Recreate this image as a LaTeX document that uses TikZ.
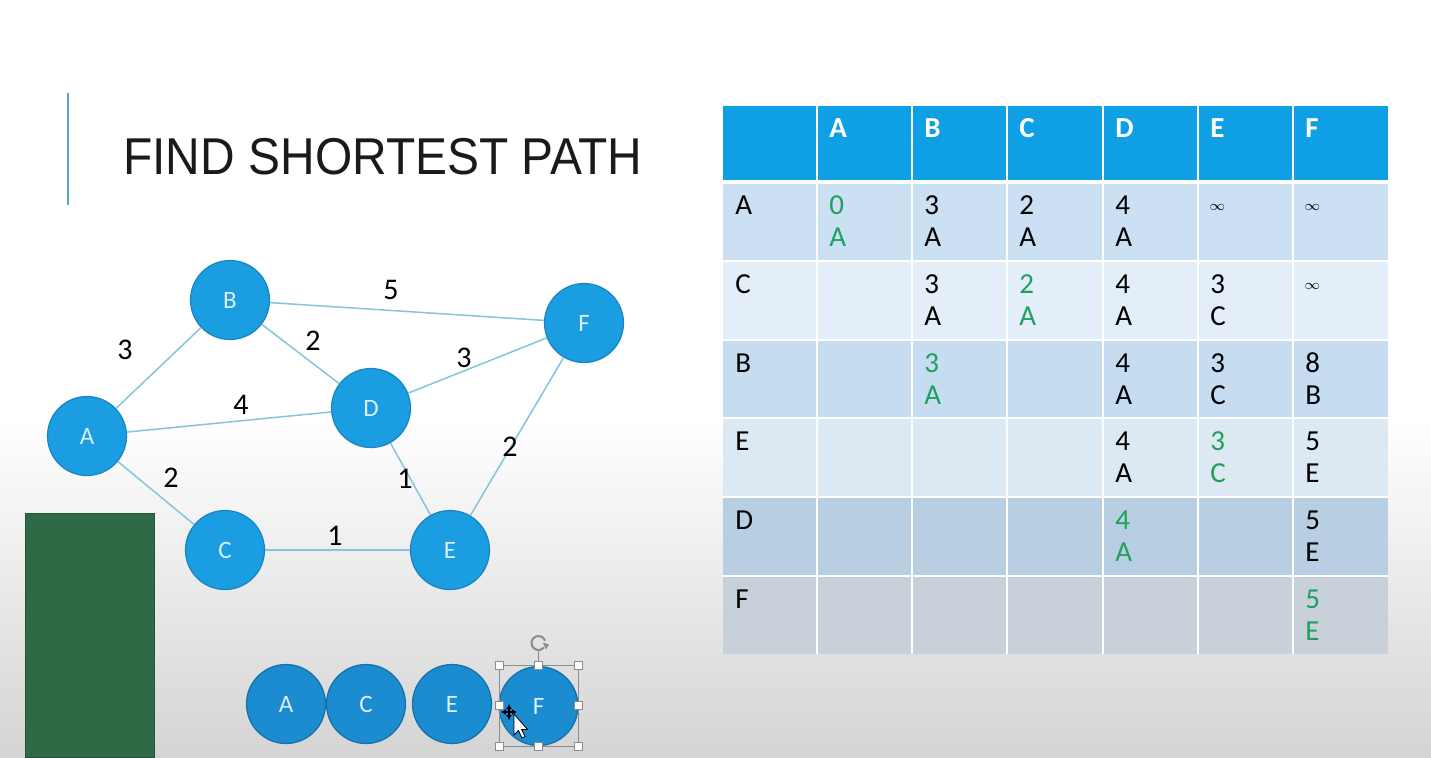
\documentclass[tikz,border=0pt]{standalone}
\usepackage{fontspec}
\setmainfont{Carlito}
\newfontfamily\titlefont{Liberation Sans}
\usetikzlibrary{arrows.meta}

\definecolor{bgbottom}{HTML}{D4D4D4}
\definecolor{titleink}{HTML}{1A1A1A}
\definecolor{rule}{HTML}{5AA6C8}
\definecolor{nodefill}{HTML}{1B9DE2}
\definecolor{nodeedge}{HTML}{1784C4}
\definecolor{nodetext}{HTML}{DCEFFA}
\definecolor{rowfill}{HTML}{1A8CCF}
\definecolor{rowedge}{HTML}{146FA6}
\definecolor{edgeline}{HTML}{86C4DA}
\definecolor{boxgreen}{HTML}{2F6A47}
\definecolor{boxgreenedge}{HTML}{24533A}
\definecolor{headfill}{HTML}{0F9FE5}
\definecolor{rowA}{HTML}{CBE0F2}
\definecolor{rowC}{HTML}{E3EEF8}
\definecolor{rowB}{HTML}{C6DDF1}
\definecolor{rowE}{HTML}{DCE8F2}
\definecolor{rowD}{HTML}{B8CFE3}
\definecolor{rowF}{HTML}{C8D0D9}
\definecolor{done}{HTML}{1FA05C}
\definecolor{handle}{HTML}{8C8C8C}

% one table entry: distance on the first line, predecessor on the second
\newcommand{\entry}[6]{%
  \node[celltext,text=#4] (#1d) at (#2+12,#3+32) {#5};
  \node[celltext,text=#4] (#1p) at (#2+12,#3+64) {#6};}

\begin{document}
\begin{tikzpicture}[x=0.5pt,y=-0.5pt,
  vertex/.style={circle,fill=nodefill,draw=nodeedge,line width=0.6pt,
    minimum size=39.5pt,inner sep=0pt,text=nodetext,
    font=\fontsize{12.5}{12.5}\selectfont},
  visited/.style={vertex,fill=rowfill,draw=rowedge},
  link/.style={draw=edgeline,line width=0.75pt},
  weight/.style={inner sep=0pt,text=black,font=\fontsize{15}{15}\selectfont},
  celltext/.style={anchor=base west,inner sep=0pt,text=black,
    font=\fontsize{14.5}{14.5}\selectfont},
  headtext/.style={celltext,text=white,font=\fontsize{14.5}{14.5}\selectfont\bfseries},
  grip/.style={draw=handle,fill=white,line width=0.5pt,minimum size=4pt,
    inner sep=0pt,rectangle},
  movetip/.style={black,line width=0.6pt,-{Latex[length=2.5pt,width=3pt]}}]

\useasboundingbox (0,0) rectangle (1431,757);

% backdrop
\fill[white] (0,0) rectangle (1431,420);
\shade[top color=white,bottom color=bgbottom] (0,420) rectangle (1431,757);

% title
\draw[rule,line width=1pt] (68,93) -- (68,205);
\node[anchor=base west,inner sep=0pt,text=titleink,
  font=\titlefont\fontsize{25.9}{26}\selectfont] (title) at (123,174)
  {\scalebox{0.925}[1]{FIND SHORTEST PATH}};

% green block
\fill[boxgreen,draw=boxgreenedge,line width=0.5pt] (25,513) rectangle (154,757);

% graph
\node[vertex] (A) at (87,436) {A};
\node[vertex] (B) at (230,300) {B};
\node[vertex] (C) at (225,550) {C};
\node[vertex] (D) at (371,408) {D};
\node[vertex] (E) at (450,550) {E};
\node[vertex] (F) at (584,323) {F};

\draw[link] (A) -- (B);
\draw[link] (B) -- (F);
\draw[link] (B) -- (D);
\draw[link] (A) -- (D);
\draw[link] (D) -- (F);
\draw[link] (A) -- (C);
\draw[link] (D) -- (E);
\draw[link] (E) -- (F);
\draw[link] (C) -- (E);

\node[weight] (wAB) at (125,350) {3};
\node[weight] (wBF) at (391,290) {5};
\node[weight] (wBD) at (313,341) {2};
\node[weight] (wDF) at (464,358) {3};
\node[weight] (wAD) at (241,405) {4};
\node[weight] (wAC) at (171,478) {2};
\node[weight] (wDE) at (405,479) {1};
\node[weight] (wEF) at (510,447) {2};
\node[weight] (wCE) at (335,536) {1};

% visited order
\node[visited] (sA) at (286,704) {A};
\node[visited] (sC) at (366,704) {C};
\node[visited] (sE) at (452,704) {E};
\node[visited] (sF) at (538.5,706) {F};

% selection frame on the last circle
\draw[handle,line width=0.5pt] (499,665) rectangle (578,746);
\coordinate (rotbase) at (538.5,665);
\coordinate (rot) at (538.5,643);
\draw[handle,line width=0.5pt] (rotbase) -- ++(0,-14);
\draw[handle,line width=1pt] ([shift={(40:7)}]rot) arc[start angle=40,end angle=340,radius=7];
\fill[handle] ([shift={(40:7)}]rot) ++(-1,-5) -- ++(6,2) -- ++(-3,5) -- cycle;
\foreach \gx/\gy [count=\i] in {499/665,538.5/665,578/665,499/705.5,578/705.5,499/746,538.5/746,578/746}
  \node[grip] (grip\i) at (\gx,\gy) {};

% pointer with move cross
\coordinate (mv) at (509,712);
\draw[movetip] (mv) -- ++(0,-8);
\draw[movetip] (mv) -- ++(0,8);
\draw[movetip] (mv) -- ++(-8,0);
\draw[movetip] (mv) -- ++(8,0);
\draw[black,line width=0.4pt,fill=white] (514,714) -- (514,735) -- (518.5,730.5) -- (522,738)
  -- (525,736.5) -- (521.5,729.5) -- (527.5,729.5) -- cycle;

% table: header and row backgrounds
\fill[headfill] (723,106) rectangle (1388,182);
\fill[rowA] (723,182) rectangle (1388,261);
\fill[rowC] (723,261) rectangle (1388,340);
\fill[rowB] (723,340) rectangle (1388,418);
\fill[rowE] (723,418) rectangle (1388,497);
\fill[rowD] (723,497) rectangle (1388,576);
\fill[rowF] (723,576) rectangle (1388,654);
\foreach \cx in {817,912,1007,1103,1198,1293}
  \draw[white,line width=1.2pt] (\cx,106) -- (\cx,654);
\foreach \ry in {261,340,418,497,576}
  \draw[white,line width=1pt] (723,\ry) -- (1388,\ry);
\draw[white,line width=2pt] (723,182) -- (1388,182);

% header
\foreach \lab/\cx in {A/817,B/912,C/1007,D/1103,E/1198,F/1293}
  \node[headtext] (h\lab) at (\cx+12,106+31) {\lab};

% row labels
\foreach \lab/\ry in {A/182,C/261,B/340,E/418,D/497,F/576}
  \node[celltext] (r\lab) at (723+12,\ry+32) {\lab};

% row A
\entry{aA}{817}{182}{done}{0}{A}
\entry{aB}{912}{182}{black}{3}{A}
\entry{aC}{1007}{182}{black}{2}{A}
\entry{aD}{1103}{182}{black}{4}{A}
\node[anchor=west,inner sep=0pt,font=\fontsize{7.5}{7.5}\selectfont] (aEd) at (1209,207) {$\infty$};
\node[anchor=west,inner sep=0pt,font=\fontsize{7.5}{7.5}\selectfont] (aFd) at (1304,207) {$\infty$};
% row C
\entry{cB}{912}{261}{black}{3}{A}
\entry{cC}{1007}{261}{done}{2}{A}
\entry{cD}{1103}{261}{black}{4}{A}
\entry{cE}{1198}{261}{black}{3}{C}
\node[anchor=west,inner sep=0pt,font=\fontsize{7.5}{7.5}\selectfont] (cFd) at (1304,286) {$\infty$};
% row B
\entry{bB}{912}{340}{done}{3}{A}
\entry{bD}{1103}{340}{black}{4}{A}
\entry{bE}{1198}{340}{black}{3}{C}
\entry{bF}{1293}{340}{black}{8}{B}
% row E
\entry{eD}{1103}{418}{black}{4}{A}
\entry{eE}{1198}{418}{done}{3}{C}
\entry{eF}{1293}{418}{black}{5}{E}
% row D
\entry{dD}{1103}{497}{done}{4}{A}
\entry{dF}{1293}{497}{black}{5}{E}
% row F
\entry{fF}{1293}{576}{done}{5}{E}

\end{tikzpicture}
\end{document}
